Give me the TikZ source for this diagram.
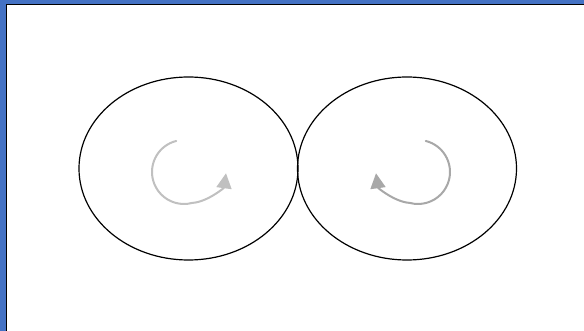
\documentclass[tikz,border=0pt]{standalone}
\usetikzlibrary{shapes.geometric,arrows.meta}
\definecolor{frameblue}{HTML}{4472C4}
\definecolor{arrowlight}{HTML}{C0C0C0}
\definecolor{arrowdark}{HTML}{A8A8A8}
\tikzset{
  bigoval/.style={draw=black, line width=1.2pt, ellipse, inner sep=0pt, outer sep=0pt,
    minimum width=219pt, minimum height=183pt},
  turnarrow/.style={line width=2pt, line cap=round,
    -{Triangle[length=15pt,width=15pt]}}
}
\begin{document}
\begin{tikzpicture}[x=1pt,y=-1pt]
  \useasboundingbox (0,0) rectangle (584,331);
  \begin{scope}
    \clip (0,0) rectangle (584,331);
    \fill[frameblue] (0,0) rectangle (584,331);
    \draw[line width=1.5pt, fill=white] (6.25,4.75) rectangle (600,350);
  \end{scope}
  \node[bigoval] (L) at (188.5,168.5) {};
  \node[bigoval] (R) at (407,168.5) {};
  \coordinate (lc) at (184,172);
  \coordinate (rc) at (418,172);
  \coordinate (ltip) at (226,173.3);
  \coordinate (rtip) at (376,173.3);
  \draw[turnarrow, arrowlight] (lc) ++(-104:32) arc[start angle=-104, end angle=-285, radius=32]
    .. controls (207,202) and (224,188) .. (ltip);
  \draw[turnarrow, arrowdark] (rc) ++(-76:32) arc[start angle=-76, end angle=105, radius=32]
    .. controls (395,202) and (378,188) .. (rtip);
\end{tikzpicture}
\end{document}
